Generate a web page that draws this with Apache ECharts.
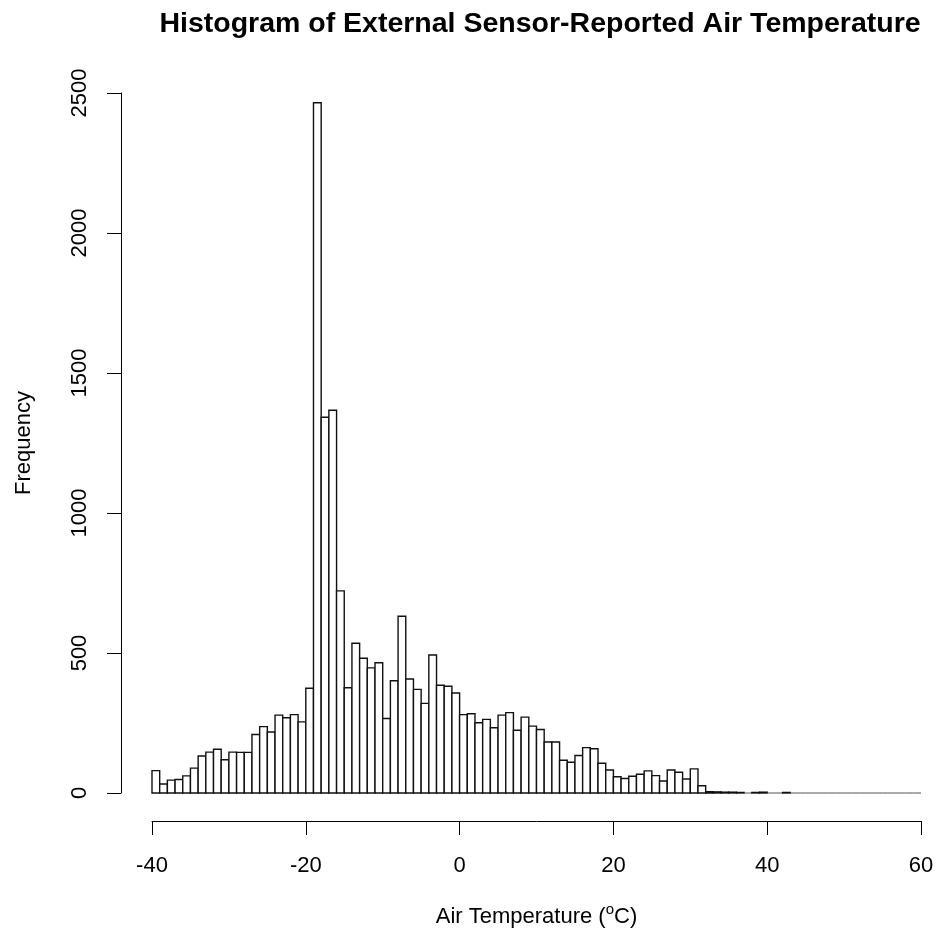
<!DOCTYPE html>
<html>
<head>
<meta charset="utf-8">
<script src="https://cdn.jsdelivr.net/npm/echarts@6/dist/echarts.min.js"></script>
<style>
html,body{margin:0;padding:0;background:#fff;}
#chart{width:937px;height:934px;}
</style>
</head>
<body>
<div id="chart"></div>
<script>
// Bin left edges (°C), width 1
var binStarts = [-40,-39,-38,-37,-36,-35,-34,-33,-32,-31,-30,-29,-28,-27,-26,-25,-24,-23,-22,-21,
  -20,-19,-18,-17,-16,-15,-14,-13,-12,-11,-10,-9,-8,-7,-6,-5,-4,-3,-2,-1,
  0,1,2,3,4,5,6,7,8,9,10,11,12,13,14,15,16,17,18,19,
  20,21,22,23,24,25,26,27,28,29,30,31,32,33,34,35,36,37,38,39,
  40,41,42,43,44,45,46,47,48,49,50,51,52,53,54,55,56,57,58,59];
var binWidth = 1;
// Frequencies
var counts = [80,32,46,48,61,89,132,146,156,119,146,145,145,209,237,218,278,269,280,254,
  374,2465,1342,1367,722,376,535,481,447,465,266,401,631,407,370,320,493,385,381,357,
  280,283,251,263,233,278,287,224,271,239,227,182,182,117,110,134,162,158,106,82,
  58,52,60,67,79,62,43,82,74,50,86,26,5,4,3,3,2,0,2,3,
  0,0,2,0,0,0,0,0,0,0,0,0,0,0,0,0,0,0,0,0];
var xTicks = [-40,-20,0,20,40,60];
var yTicks = [0,500,1000,1500,2000,2500];

var titleText = 'Histogram of External Sensor-Reported Air Temperature';
var yName = 'Frequency';

var data = binStarts.map(function(x, i){ return [x, counts[i]]; });

var FONT = '"Liberation Sans", Arial, Helvetica, sans-serif';
var chart = echarts.init(document.getElementById('chart'), null, {renderer:'canvas'});
chart.setOption({
  backgroundColor: '#ffffff',
  animation: false,
  title: {
    text: titleText,
    left: 535, top: 5, textAlign: 'center',
    textStyle: {fontFamily: FONT, fontWeight: 'bold', fontSize: 28.5, color: '#000'}
  },
  grid: {left: 152, right: 16, top: 93, bottom: 141, containLabel: false},
  xAxis: {
    type: 'value', min: -40, max: 60, interval: 20, offset: 28,
    axisLine: {show: true, onZero: false, lineStyle: {color: '#000', width: 1}},
    axisTick: {show: true, length: 14, lineStyle: {color: '#000'}},
    splitLine: {show: false},
    axisLabel: {margin: 34, color: '#000', fontFamily: FONT, fontSize: 22,
      formatter: function(v){ return String(v); }},
    name: '{n|Air Temperature (}{s|o}{n|C)}',
    nameLocation: 'middle', nameGap: 82,
    nameTextStyle: {
      rich: {
        n: {fontFamily: FONT, fontSize: 22, color: '#000', verticalAlign: 'bottom', lineHeight: 25},
        s: {fontFamily: FONT, fontSize: 15, color: '#000', verticalAlign: 'bottom', lineHeight: 25, padding:[0,0,11,0]}
      }
    }
  },
  yAxis: {
    type: 'value', min: 0, max: 2500, interval: 500, offset: 31,
    axisLine: {show: true, onZero: false, lineStyle: {color: '#000', width: 1}},
    axisTick: {show: true, length: 14, lineStyle: {color: '#000'}},
    splitLine: {show: false},
    axisLabel: {rotate: 90, margin: 30, color: '#000', fontFamily: FONT, fontSize: 22,
      formatter: function(v){ return String(v); }},
    name: yName, nameLocation: 'middle', nameRotate: 90, nameGap: 86,
    nameTextStyle: {fontFamily: FONT, fontSize: 22, color: '#000'}
  },
  series: [{
    type: 'custom',
    data: data,
    clip: false,
    renderItem: function(params, api){
      var x0 = api.value(0), c = api.value(1);
      var pTop = api.coord([x0, c]);
      var pBot = api.coord([x0 + binWidth, 0]);
      if (c === 0) {
        return {type: 'line', shape: {x1: pTop[0], y1: pBot[1], x2: pBot[0], y2: pBot[1]},
          style: {stroke: '#555', lineWidth: 1}};
      }
      return {
        type: 'rect',
        shape: {x: pTop[0], y: pTop[1], width: pBot[0] - pTop[0], height: pBot[1] - pTop[1]},
        style: {fill: '#ffffff', stroke: '#111', lineWidth: 1.4}
      };
    }
  }]
});
</script>
</body>
</html>
